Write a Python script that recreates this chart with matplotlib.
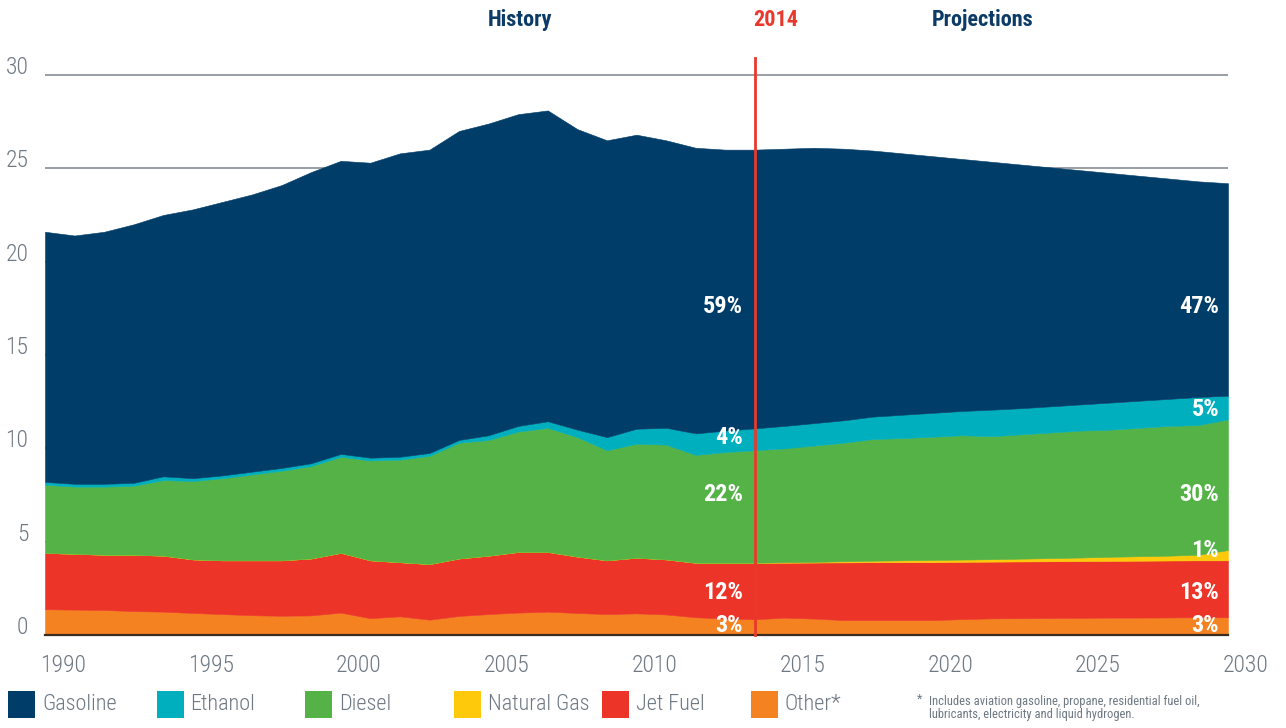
import numpy as np
import matplotlib.pyplot as plt
import matplotlib.transforms as mtransforms
from matplotlib.patches import Rectangle

plt.rcParams['font.family'] = ['Roboto Condensed', 'Roboto', 'DejaVu Sans']

years = list(range(1990, 2031))

other = [1.38, 1.36, 1.34, 1.28, 1.25, 1.18, 1.12, 1.06, 1.03, 1.05,
         1.20, 0.90, 1.00, 0.82, 1.02, 1.12, 1.20, 1.25, 1.18, 1.12,
         1.16, 1.10, 0.95, 0.88, 0.84, 0.93, 0.88, 0.80, 0.80, 0.80,
         0.80, 0.85, 0.89, 0.90, 0.91, 0.92, 0.93, 0.93, 0.94, 0.95, 0.95]
jet_fuel = [3.02, 2.99, 2.96, 3.02, 3.00, 2.87, 2.88, 2.94, 2.97, 3.05,
            3.20, 3.10, 2.90, 2.98, 3.08, 3.13, 3.25, 3.20, 3.02, 2.88,
            2.98, 2.95, 2.92, 2.99, 3.03, 2.94, 3.00, 3.09, 3.10, 3.10,
            3.10, 3.07, 3.04, 3.04, 3.04, 3.04, 3.04, 3.05, 3.05, 3.05, 3.05]
natural_gas = [0] * 25 + [0.03, 0.04, 0.06, 0.08, 0.10, 0.12, 0.12, 0.13,
                          0.15, 0.17, 0.19, 0.22, 0.24, 0.26, 0.30, 0.55]
diesel = [3.65, 3.60, 3.65, 3.70, 4.05, 4.20, 4.40, 4.60, 4.80, 4.95,
          5.15, 5.35, 5.50, 5.80, 6.20, 6.20, 6.45, 6.65, 6.40, 5.90,
          6.11, 6.15, 5.78, 5.93, 6.03, 6.10, 6.23, 6.35, 6.52, 6.55,
          6.60, 6.66, 6.59, 6.66, 6.73, 6.80, 6.81, 6.88, 6.95, 6.95, 7.00]
ethanol = [0.15, 0.15, 0.15, 0.15, 0.20, 0.15, 0.15, 0.15, 0.15, 0.15,
           0.15, 0.15, 0.15, 0.15, 0.15, 0.25, 0.30, 0.35, 0.40, 0.70,
           0.80, 0.90, 1.15, 1.15, 1.17, 1.20, 1.20, 1.20, 1.20, 1.25,
           1.28, 1.30, 1.42, 1.40, 1.40, 1.40, 1.45, 1.45, 1.45, 1.50, 1.27]
gasoline = [13.40, 13.30, 13.50, 13.85, 14.00, 14.40, 14.65, 14.85, 15.15, 15.60,
            15.70, 15.80, 16.25, 16.25, 16.55, 16.70, 16.70, 16.65, 16.10, 15.90,
            15.75, 15.40, 15.30, 15.05, 14.93, 14.85, 14.75, 14.55, 14.25, 14.00,
            13.75, 13.50, 13.28, 13.05, 12.80, 12.55, 12.30, 12.05, 11.80, 11.55, 11.38]

labels = ["Gasoline", "Ethanol", "Diesel", "Natural Gas", "Jet Fuel", "Other*"]
colors = ["#003d69", "#00afbe", "#54b247", "#ffc90b", "#ec3429", "#f58221"]

share_2014 = [("59%", 17.6), ("4%", 10.6), ("22%", 7.55), ("12%", 2.3), ("3%", 0.5)]
share_2030 = [("47%", 17.6), ("5%", 12.1), ("30%", 7.55), ("1%", 4.5), ("13%", 2.3), ("3%", 0.5)]

navy = "#0b3b66"
red = "#e8392c"
gray = "#6d7883"

fig = plt.figure(figsize=(12.86, 7.28), dpi=100)
ax = fig.add_axes([45 / 1286, 93 / 728, 1183 / 1286, 578.7 / 728])

# stack from the bottom: other, jet fuel, natural gas, diesel, ethanol, gasoline
stack = [other, jet_fuel, natural_gas, diesel, ethanol, gasoline]
stack_colors = [colors[5], colors[4], colors[3], colors[2], colors[1], colors[0]]
polys = ax.stackplot(years, *stack, colors=stack_colors, zorder=2)
for p, c in zip(polys, stack_colors):
    p.set_edgecolor(c)
    p.set_linewidth(0.4)

ax.set_xlim(1990, 2030)
ax.set_ylim(0, 31)
ax.set_yticks([0, 5, 10, 15, 20, 25, 30])
ax.set_xticks(list(range(1990, 2031, 5)))
ax.grid(axis='y', color='#7d848c', linewidth=1.1, zorder=1)
ax.grid(axis='x', visible=False)

for s in ['top', 'right', 'left']:
    ax.spines[s].set_visible(False)
ax.spines['bottom'].set_color('#3b2c22')
ax.spines['bottom'].set_linewidth(1.6)
ax.spines['bottom'].set_zorder(3)

ax.tick_params(axis='both', length=0, labelsize=17, labelcolor=gray)
ax.tick_params(axis='y', pad=12)
ax.tick_params(axis='x', pad=14)
shift_x = mtransforms.ScaledTranslation(0.18, 0, fig.dpi_scale_trans)
for lab in ax.get_xticklabels():
    lab.set_fontweight('light')
    lab.set_transform(lab.get_transform() + shift_x)
shift_y = mtransforms.ScaledTranslation(0, 0.01, fig.dpi_scale_trans)
for lab in ax.get_yticklabels():
    lab.set_fontweight('light')
    lab.set_verticalalignment('baseline')
    lab.set_transform(lab.get_transform() + shift_y)

# 2014 divider
ax.plot([2014, 2014], [0, 30.9], color=red, linewidth=2, zorder=4, clip_on=False)

# header labels
fig.text(520 / 1286, 1 - 20 / 728, "History", color=navy, fontsize=16,
         fontweight='bold', ha='center', va='center')
fig.text(776 / 1286, 1 - 20 / 728, "2014", color=red, fontsize=16,
         fontweight='bold', ha='center', va='center')
fig.text(983 / 1286, 1 - 20 / 728, "Projections", color=navy, fontsize=16,
         fontweight='bold', ha='center', va='center')

# share labels
for txt, yv in share_2014:
    ax.text(2013.6, yv, txt, color='white', fontsize=17.5, fontweight='bold',
            ha='right', va='center', zorder=5)
for txt, yv in share_2030:
    ax.text(2029.7, yv, txt, color='white', fontsize=17.5, fontweight='bold',
            ha='right', va='center', zorder=5)

# legend row
for i, (lab, c) in enumerate(zip(labels, colors)):
    x0 = 8 + i * 148.5
    fig.patches.append(Rectangle((x0 / 1286, (728 - 718) / 728), 27 / 1286, 27 / 728,
                                 transform=fig.transFigure, facecolor=c,
                                 edgecolor='none'))
    fig.text((x0 + 34) / 1286, (728 - 704) / 728, lab, color=gray, fontsize=16,
             fontweight='light', ha='left', va='center')

fig.text(917 / 1286, (728 - 699) / 728, "*", color=gray, fontsize=9,
         ha='left', va='center')
fig.text(929 / 1286, (728 - 708) / 728,
         "Includes aviation gasoline, propane, residential fuel oil,\n"
         "lubricants, electricity and liquid hydrogen.",
         color=gray, fontsize=9, ha='left', va='center', linespacing=0.95)

fig.savefig("out.png", dpi=100)
